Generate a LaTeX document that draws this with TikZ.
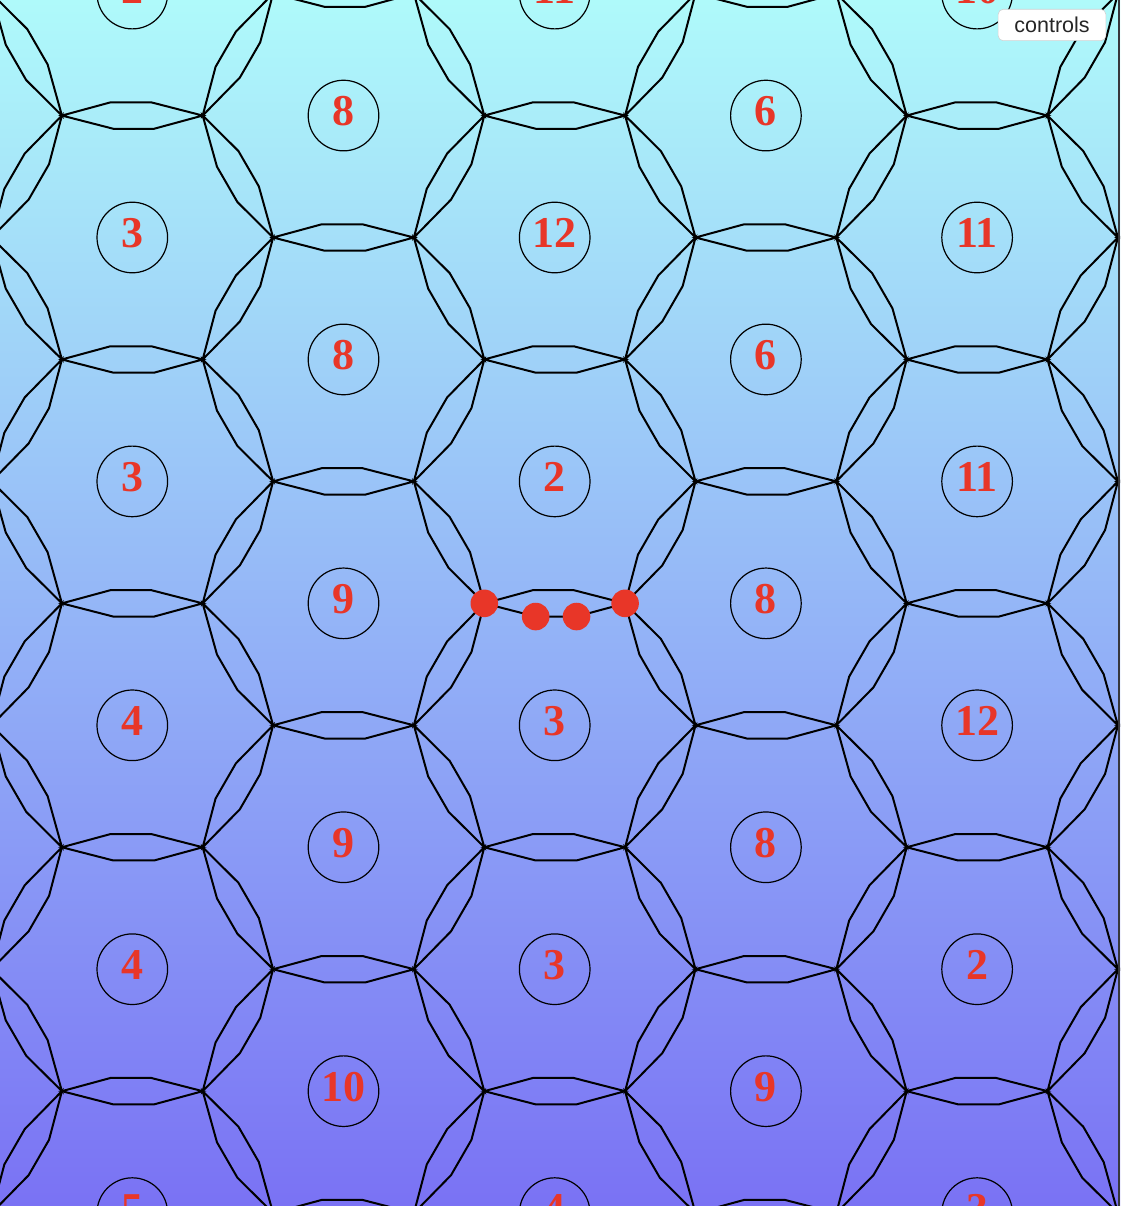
\documentclass[tikz,border=0pt]{standalone}
\usepackage{fontspec}
\setmainfont{Liberation Serif}
\newfontfamily\uifont{Liberation Sans}
\usetikzlibrary{calc}
\definecolor{bgtop}{RGB}{175,250,250}
\definecolor{bgbot}{RGB}{122,114,244}
\definecolor{numred}{RGB}{232,54,40}
\definecolor{edgestrip}{RGB}{55,55,60}
\tikzset{
  lensline/.style={draw=black, line width=2pt},
  numcirc/.style={circle, draw=black, line width=1.2pt, minimum size=70.6pt, inner sep=0pt},
  numtext/.style={anchor=base, inner sep=0pt, text=numred, font=\fontsize{44}{44}\selectfont\bfseries},
  reddot/.style={circle, fill=numred, minimum size=27.6pt, inner sep=0pt},
  ctrlbtn/.style={rectangle, rounded corners=5pt, fill=white, draw=gray!35, line width=0.6pt,
    minimum width=107.7pt, minimum height=31.4pt, inner sep=0pt, text=black!85,
    font=\uifont\fontsize{21.5}{21.5}\selectfont}
}
\def\lensoff{13.2pt}
\newcommand\lensedge[2]{%
  \draw[lensline] (#1)
    -- ($(#1)!0.345!(#2)!\lensoff!90:(#2)$)
    -- ($(#1)!0.635!(#2)!\lensoff!90:(#2)$)
    -- (#2)
    -- ($(#1)!0.655!(#2)!\lensoff!-90:(#2)$)
    -- ($(#1)!0.365!(#2)!\lensoff!-90:(#2)$)
    -- cycle;%
}
\begin{document}
\begin{tikzpicture}[x=1pt,y=-1pt]
\useasboundingbox (0,0) rectangle (1120,1206);
\begin{scope}
\clip (0,0) rectangle (1120,1206);
\shade[top color=bgtop, bottom color=bgbot] (0,0) rectangle (1120,1206);
% hexagonal grid of lens-shaped edges
\foreach \k in {-1,...,5}{
  \foreach \j in {-2,...,5}{
    \pgfmathsetmacro{\cx}{132.3+211.2*\k}
    \pgfmathsetmacro{\cy}{237.5+243.9*\j-121.95*mod(abs(\k),2)}
    \coordinate (va) at (\cx-70.4,\cy-121.94);
    \coordinate (vb) at (\cx+70.4,\cy-121.94);
    \coordinate (vc) at (\cx+140.8,\cy);
    \coordinate (vd) at (\cx+70.4,\cy+121.94);
    \lensedge{va}{vb}
    \lensedge{vb}{vc}
    \lensedge{vc}{vd}
  }
}
% number tokens
\foreach \k/\j/\t in {0/-1/2, 0/0/3, 0/1/3, 0/2/4, 0/3/4, 0/4/5,
                      1/0/8, 1/1/8, 1/2/9, 1/3/9, 1/4/10,
                      2/-1/11, 2/0/12, 2/1/2, 2/2/3, 2/3/3, 2/4/4,
                      3/0/6, 3/1/6, 3/2/8, 3/3/8, 3/4/9,
                      4/-1/10, 4/0/11, 4/1/11, 4/2/12, 4/3/2, 4/4/3}{
  \pgfmathsetmacro{\cx}{132.3+211.2*\k}
  \pgfmathsetmacro{\cy}{237.5+243.9*\j-121.95*mod(abs(\k),2)}
  \node[numcirc] (c\k\j) at (\cx,\cy) {};
  \node[numtext] (t\k\j) at ($(c\k\j.center)+(0,10.3)$) {\t};
}
% highlighted edge with red dots
\coordinate (ra) at (484.3,603.34);
\coordinate (rb) at (625.1,603.34);
\coordinate (rc) at ($(ra)!0.365!(rb)!\lensoff!-90:(rb)$);
\coordinate (rd) at ($(ra)!0.655!(rb)!\lensoff!-90:(rb)$);
\node[reddot] (dot1) at (ra) {};
\node[reddot] (dot2) at (rc) {};
\node[reddot] (dot3) at (rd) {};
\node[reddot] (dot4) at (rb) {};
% right border strip
\coordinate (s1) at (1118.9,0);
\coordinate (s2) at (1118.9,1206);
\draw[edgestrip, line width=2.2pt] (s1) -- (s2);
\end{scope}
\node[ctrlbtn] (ctrl) at (1052,25) {controls};
\end{tikzpicture}
\end{document}
